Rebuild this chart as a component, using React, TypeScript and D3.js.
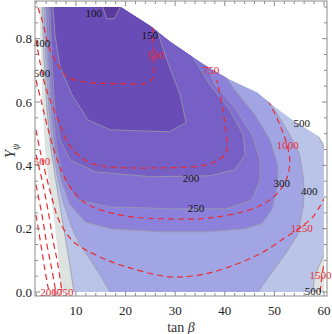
import React from "react";
import * as d3 from "d3";

type P = [number, number];

const xDomain: P = [1.75, 60.6];
const yDomain: P = [-0.0126, 0.919];
const xTicks = [10, 20, 30, 40, 50, 60];
const yTicks = [0, 0.2, 0.4, 0.6, 0.8];

// edges of the filled area (tan beta, Y)
const leftEdge: P[] = [[6.98, 0], [6.37, 0.118], [5.57, 0.228], [4.56, 0.339], [3.75, 0.449], [3.15, 0.607], [2.95, 0.734], [2.54, 0.9]];
const topEdge: P[] = [[19, 0.9], [25, 0.84], [29, 0.79], [35.6, 0.72], [41, 0.67], [46.5, 0.63], [50, 0.585], [53.5, 0.545], [57, 0.51], [59, 0.49], [60, 0.47]];

// filled contours: region below each level
const levels = [500, 400, 300, 250, 200, 150, 100];
const levelFill = ["#bac4e8", "#a2a5e4", "#8c82dc", "#8170d2", "#7660c6", "#6a4cb6", "#5b3a9e"];
const aboveFill = "#dde3e0";

const below500: P[] = [[3.15, 0.9], [3.55, 0.734], [4.16, 0.575], [4.96, 0.449], [5.77, 0.37], [6.57, 0.291], [7.58, 0.197], [8.59, 0.102], [9.6, 0], [9.6, -0.03], [57.8, -0.03], [57.8, 0], [58.0, 0.039], [58.8, 0.076], [60, 0.118], [62, 0.118], [62, 0.455], [60, 0.455], [59.0, 0.49], [57.8, 0.512], [56.2, 0.535]];
const below400: P[] = [[3.55, 0.9], [3.95, 0.734], [4.56, 0.575], [5.36, 0.449], [6.37, 0.354], [7.58, 0.276], [9.19, 0.203], [10.8, 0.149], [13.2, 0.095], [15.2, 0.045], [16.9, 0], [16.9, -0.03], [46.7, -0.03], [46.7, 0], [49.1, 0.054], [52.1, 0.118], [54.7, 0.181], [55.9, 0.276], [55.9, 0.354], [55.1, 0.434], [53.1, 0.497], [50.1, 0.575], [47.5, 0.625]];
const below300: P[] = [[3.95, 0.9], [4.36, 0.734], [4.96, 0.575], [5.77, 0.449], [6.98, 0.354], [8.79, 0.276], [11.8, 0.222], [16.9, 0.2], [26.9, 0.19], [36.4, 0.19], [44.1, 0.2], [47.5, 0.216], [49.5, 0.26], [50.7, 0.339], [50.7, 0.402], [49.1, 0.481], [46.1, 0.56], [42.0, 0.639], [40, 0.685]];
const below250: P[] = [[4.36, 0.9], [4.76, 0.734], [5.36, 0.575], [6.17, 0.449], [7.58, 0.354], [10.2, 0.291], [16.9, 0.269], [28.9, 0.263], [40.4, 0.263], [45.5, 0.291], [47.1, 0.354], [47.1, 0.418], [45.5, 0.497], [42.0, 0.582], [38.0, 0.655], [36.4, 0.72]];
const below200: P[] = [[4.76, 0.9], [5.16, 0.734], [5.77, 0.575], [6.78, 0.481], [8.79, 0.418], [13.8, 0.38], [24.9, 0.364], [37.0, 0.367], [42.0, 0.386], [44.1, 0.434], [43.7, 0.497], [41.0, 0.575], [37.0, 0.655], [33, 0.755]];
const below150: P[] = [[5.36, 0.9], [5.77, 0.813], [6.78, 0.712], [9.19, 0.623], [12.4, 0.544], [16.9, 0.512], [28.9, 0.506], [32.2, 0.535], [31.0, 0.623], [28.3, 0.734], [26.3, 0.83]];
const below100: P[] = [[15.4, 0.9], [16.2, 0.863], [17.7, 0.863], [19.3, 0.91]];
const regions = [below500, below400, below300, below250, below200, below150, below100];

// dashed contours of the second quantity
const m500: P[] = [[2.34, 0.898], [3.15, 0.86], [4.76, 0.765], [6.37, 0.718], [8.19, 0.68], [11.4, 0.664], [18.9, 0.658], [24.5, 0.661], [25.5, 0.677], [25.7, 0.734], [25.5, 0.84]];
const m750: P[] = [[1.94, 0.797], [2.74, 0.727], [3.75, 0.655], [5.16, 0.591], [6.78, 0.528], [8.39, 0.471], [10.4, 0.434], [12.8, 0.408], [16.2, 0.396], [26.3, 0.392], [36.4, 0.402], [39.6, 0.427], [40.4, 0.449], [39.6, 0.575], [38.4, 0.67]];
const m1000: P[] = [[1.94, 0.67], [2.95, 0.607], [4.16, 0.528], [5.57, 0.449], [7.18, 0.38], [9.19, 0.323], [11.8, 0.282], [14.8, 0.26], [20.9, 0.238], [28.9, 0.231], [37.0, 0.234], [45.1, 0.26], [49.1, 0.291], [51.9, 0.339], [53.1, 0.402], [52.7, 0.455], [51.1, 0.528], [48.7, 0.607]];
const m1250: P[] = [[1.94, 0.512], [2.74, 0.449], [3.95, 0.37], [5.16, 0.297], [6.37, 0.234], [8.0, 0.187], [9.8, 0.155], [14.8, 0.111], [20.9, 0.076], [28.9, 0.048], [35.0, 0.054], [41.0, 0.08], [47.1, 0.121], [52.1, 0.171], [55.1, 0.203], [57.8, 0.238], [60.2, 0.3]];
const m1500a: P[] = [[59.2, 0], [59.6, 0.051], [60.2, 0.108]];
const m1500b: P[] = [[1.94, 0.434], [3.15, 0.354], [4.36, 0.259], [5.36, 0.165], [6.37, 0.086], [7.18, 0]];
const m1750: P[] = [[1.94, 0.339], [3.15, 0.244], [4.16, 0.149], [5.16, 0.07], [5.97, 0]];
const m2000: P[] = [[1.94, 0.244], [2.95, 0.149], [3.75, 0.07], [4.56, 0]];
const dashedLines = [m500, m750, m1000, m1250, m1500a, m1500b, m1750, m2000];

// contour labels: [text, tan beta, Y]
const levelLabels: [string, number, number][] = [
  ["100", 13.6, 0.882], ["150", 24.9, 0.813], ["400", 3.15, 0.787], ["500", 3.15, 0.693],
  ["200", 33.2, 0.361], ["250", 34.2, 0.266], ["300", 51.5, 0.345], ["400", 57.0, 0.32],
  ["500", 55.5, 0.535], ["500", 57.8, 0.004],
];
const massLabels: [string, number, number][] = [
  ["500", 26.1, 0.749], ["750", 37.2, 0.702], ["1000", 52.7, 0.465], ["1250", 55.5, 0.203],
  ["1500", 59.3, 0.054], ["500", 3.15, 0.414], ["2000", 5.0, 0.0], ["1750", 7.3, 0.0],
];

const serif = "'Liberation Serif', 'Times New Roman', serif";

export default function App() {
  const x = d3.scaleLinear().domain(xDomain).range([35, 327]);
  const y = d3.scaleLinear().domain(yDomain).range([296, 1]);
  const line = d3.line<P>().x((d) => x(d[0])).y((d) => y(d[1]));
  const dashLine = d3.line<P>().x((d) => x(d[0])).y((d) => y(d[1])).curve(d3.curveCatmullRom.alpha(0.5));
  const ring = (pts: P[]) => line([...pts, [pts[pts.length - 1][0], 1.05], [pts[0][0], 1.05]])! + "Z";

  const filled: P[] = [...leftEdge, ...topEdge, [60, 0]];
  const dashArea: P[] = [[xDomain[0], 0], [xDomain[0], 0.9], ...topEdge, [60, 0]];

  const [x0, x1] = x.range();
  const [yb, yt] = y.range();
  const xMinor = d3.range(2, 61, 2).filter((v) => v % 10 !== 0);
  const yMinor = d3.range(0, 0.91, 0.05).filter((v) => Math.abs(v * 5 - Math.round(v * 5)) > 1e-6);

  return (
    <svg width={332} height={334} style={{ position: "absolute", left: 0, top: 0 }} fontFamily={serif}>
      <defs>
        <clipPath id="dataClip">
          <path d={line(filled)! + "Z"} />
        </clipPath>
        <clipPath id="dashClip">
          <path d={line(dashArea)! + "Z"} />
        </clipPath>
      </defs>
      <rect width={332} height={334} fill="#fff" />

      <g clipPath="url(#dataClip)">
        <path d={line(filled)! + "Z"} fill={aboveFill} />
        {regions.map((r, i) => (
          <path key={levels[i]} d={ring(r)} fill={levelFill[i]} stroke="#9a9aa6" strokeWidth={0.8} />
        ))}
      </g>

      <g clipPath="url(#dashClip)" fill="none" stroke="#ea2a30" strokeWidth={1.2} strokeDasharray="6,4">
        {dashedLines.map((m, i) => (
          <path key={i} d={dashLine(m)!} />
        ))}
      </g>

      <g fontSize={11} textAnchor="middle" dominantBaseline="central">
        {levelLabels.map(([t, a, b], i) => (
          <text key={"l" + i} x={x(a)} y={y(b)} fill="#111">{t}</text>
        ))}
        {massLabels.map(([t, a, b], i) => (
          <text key={"m" + i} x={x(a)} y={y(b)} fill="#ea2a30">{t}</text>
        ))}
      </g>

      <g stroke="#8c8c8c" strokeWidth={1} fill="none">
        <rect x={x0} y={yt} width={x1 - x0} height={yb - yt} />
        {xTicks.map((t) => (
          <g key={"xt" + t}>
            <line x1={x(t)} x2={x(t)} y1={yb} y2={yb - 5} />
            <line x1={x(t)} x2={x(t)} y1={yt} y2={yt + 5} />
          </g>
        ))}
        {xMinor.map((t) => (
          <g key={"xm" + t}>
            <line x1={x(t)} x2={x(t)} y1={yb} y2={yb - 3} />
            <line x1={x(t)} x2={x(t)} y1={yt} y2={yt + 3} />
          </g>
        ))}
        {yTicks.map((t) => (
          <g key={"yt" + t}>
            <line x1={x0} x2={x0 + 5} y1={y(t)} y2={y(t)} />
            <line x1={x1} x2={x1 - 5} y1={y(t)} y2={y(t)} />
          </g>
        ))}
        {yMinor.map((t) => (
          <g key={"ym" + t}>
            <line x1={x0} x2={x0 + 3} y1={y(t)} y2={y(t)} />
            <line x1={x1} x2={x1 - 3} y1={y(t)} y2={y(t)} />
          </g>
        ))}
      </g>

      <g fontSize={13} fill="#222">
        {xTicks.map((t) => (
          <text key={"xl" + t} x={x(t)} y={yb + 19} textAnchor="middle">{t}</text>
        ))}
        {yTicks.map((t) => (
          <text key={"yl" + t} x={x0 - 3} y={y(t)} textAnchor="end" dominantBaseline="central">{t.toFixed(1)}</text>
        ))}
      </g>

      <text x={181} y={332} fontSize={14} textAnchor="middle" fill="#333">
        tan <tspan fontStyle="italic">β</tspan>
      </text>
      <text transform="translate(15,151) rotate(-90)" fontSize={15} textAnchor="middle" fill="#333">
        <tspan fontStyle="italic">Y</tspan>
        <tspan fontSize={10} dy={4} fontStyle="italic">ψ</tspan>
      </text>
    </svg>
  );
}
